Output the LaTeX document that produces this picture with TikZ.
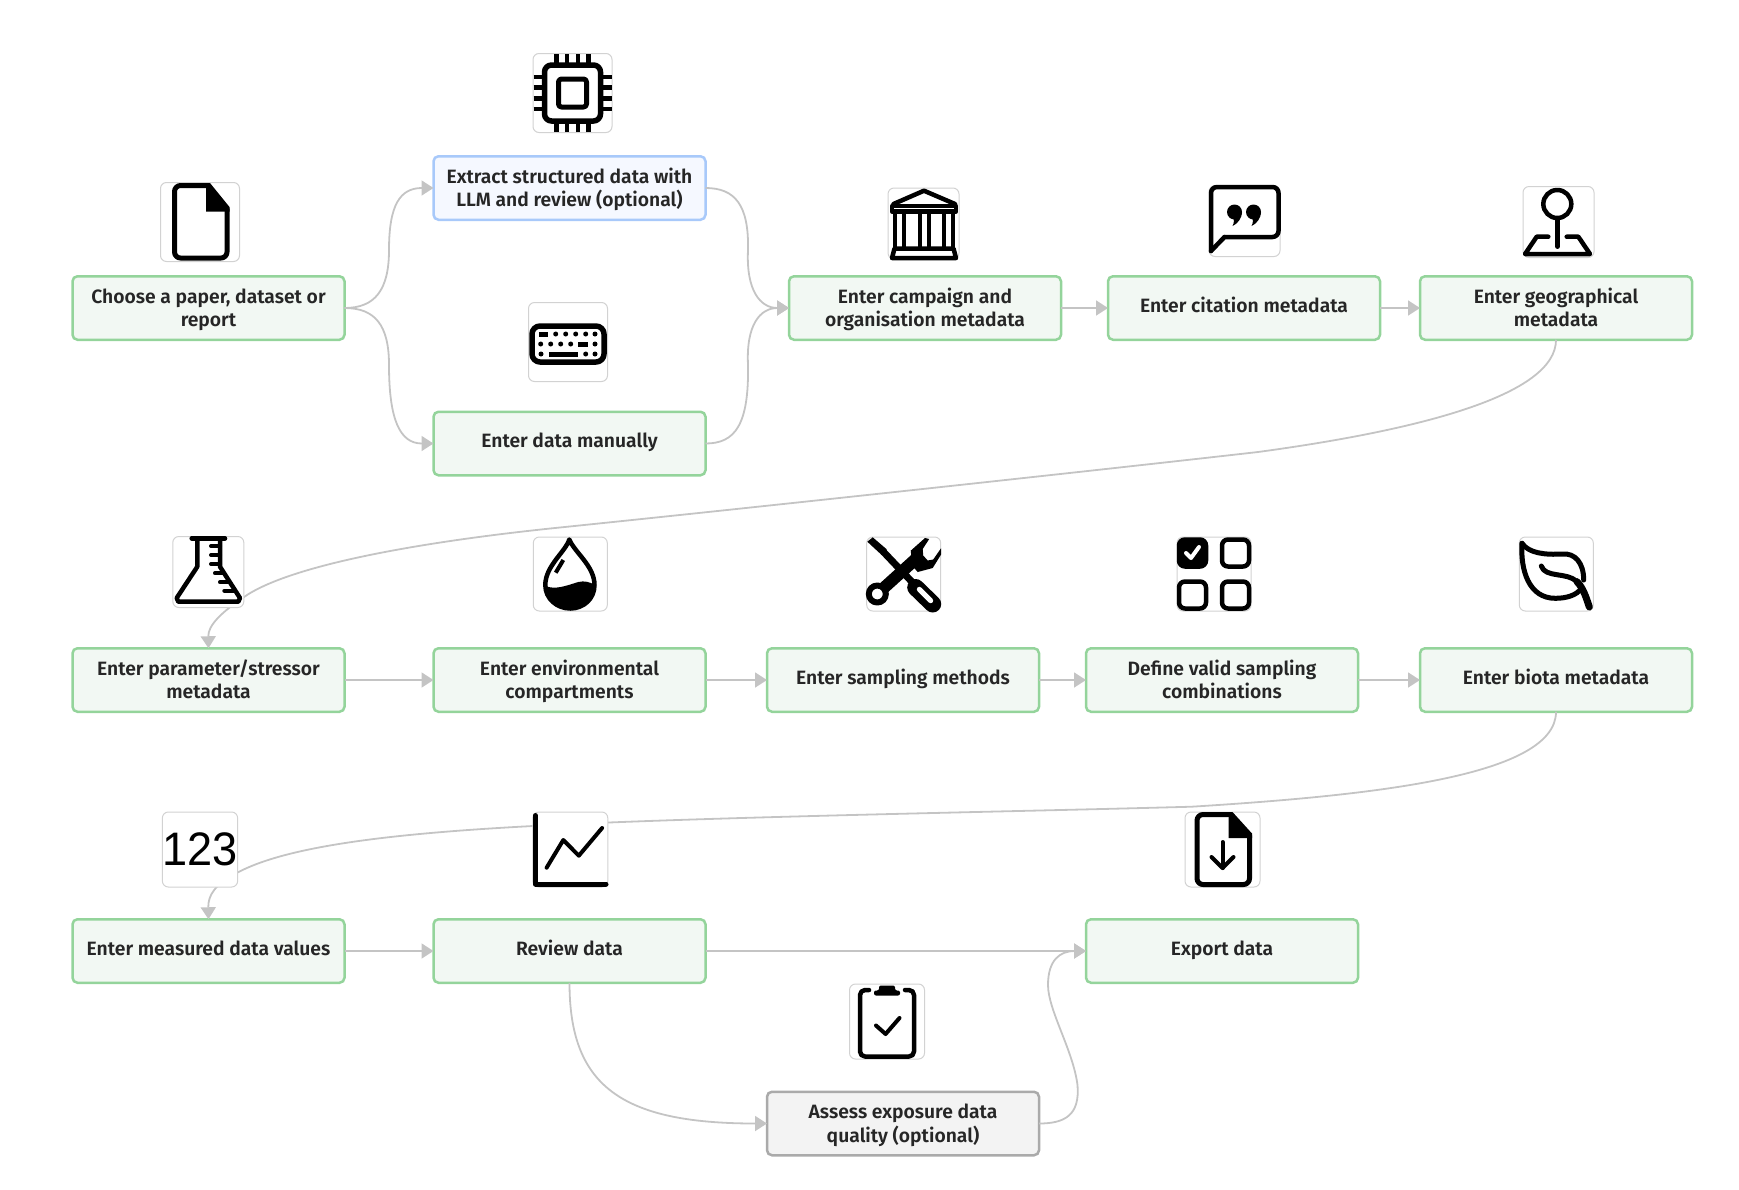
\documentclass[tikz,border=0pt]{standalone}
\usepackage{xcolor}
\usepackage{fontspec}
\setmainfont{Fira Sans SemiBold}
\newfontfamily\numfont[FakeStretch=0.96]{Liberation Sans}
\usetikzlibrary{arrows.meta}
\definecolor{cGreen}{RGB}{148,212,155}
\definecolor{cGreenFill}{RGB}{242,248,243}
\definecolor{cBlue}{RGB}{168,201,250}
\definecolor{cBlueFill}{RGB}{245,248,255}
\definecolor{cGrey}{RGB}{170,170,170}
\definecolor{cGreyFill}{RGB}{243,243,243}
\definecolor{cEdge}{RGB}{196,196,196}
\definecolor{cIcon}{RGB}{210,210,210}
\definecolor{cText}{RGB}{38,38,38}
\tikzset{
    stepbox/.style={draw=cGreen,fill=cGreenFill,line width=2.5pt,rounded corners=5pt,minimum width=272pt,minimum height=63.5pt,inner sep=0pt,outer sep=0pt,align=center,text=cText,text height=42pt,text depth=4.6pt,font=\fontsize{19.3}{23.5}\selectfont},
    llmbox/.style={stepbox,draw=cBlue,fill=cBlueFill},
    optbox/.style={stepbox,draw=cGrey,fill=cGreyFill},
    oneline/.style={text height=14pt,text depth=6pt},
    iconbox/.style={draw=cIcon,fill=white,line width=1pt,rounded corners=6pt,inner sep=0pt,outer sep=0pt},
    flow/.style={draw=cEdge,line width=1.8pt,-{Triangle[length=12pt,width=15pt]}},
    glyph/.style={draw=black,line width=4.5pt,line join=round,line cap=round},
    thinglyph/.style={draw=black,line width=4pt,line join=round,line cap=round}
}
\begin{document}
\begin{tikzpicture}[x=1pt,y=-1pt]
        \useasboundingbox (0,0) rectangle (1739,1189);

        \node[stepbox] (choose) at (208.5,308) {Choose a paper, dataset or\\report};
        \node[llmbox] (extract) at (569.5,188) {Extract structured data with\\LLM and review (optional)};
        \node[stepbox,oneline] (manual) at (569.5,443.5) {Enter data manually};
        \node[stepbox] (campaign) at (925,308) {Enter campaign and\\organisation metadata};
        \node[stepbox,oneline] (citation) at (1244,308) {Enter citation metadata};
        \node[stepbox] (geo) at (1556,308) {Enter geographical\\metadata};

        \node[stepbox] (param) at (208.5,680) {Enter parameter/stressor\\metadata};
        \node[stepbox] (env) at (569.5,680) {Enter environmental\\compartments};
        \node[stepbox,oneline] (sampling) at (903,680) {Enter sampling methods};
        \node[stepbox] (valid) at (1222,680) {Define valid sampling\\combinations};
        \node[stepbox,oneline] (biota) at (1556,680) {Enter biota metadata};

        \node[stepbox,oneline] (measured) at (208.5,951) {Enter measured data values};
        \node[stepbox,oneline] (review) at (569.5,951) {Review data};
        \node[stepbox,oneline] (export) at (1222,951) {Export data};
        \node[optbox] (assess) at (903,1123.5) {Assess exposure data\\quality (optional)};

        \draw[flow] (choose.east) .. controls (375,308) and (389,290) .. (389,250) .. controls (389,205) and (400,188) .. (extract.west);
        \draw[flow] (choose.east) .. controls (375,308) and (389,325) .. (389,365) .. controls (389,420) and (400,443.5) .. (manual.west);
        \draw[flow] (extract.east) .. controls (735,188) and (749,205) .. (748,250) .. controls (746,290) and (760,308) .. (campaign.west);
        \draw[flow] (manual.east) .. controls (735,443.5) and (749,425) .. (748,365) .. controls (746,325) and (760,308) .. (campaign.west);
        \draw[flow] (campaign) -- (citation);
        \draw[flow] (citation) -- (geo);
        \draw[flow] (geo.south) .. controls (1556,395) and (1420,430) .. (1258,452) .. controls (1100,470) and (750,508) .. (555,528) .. controls (420,542) and (290,565) .. (244,597) .. controls (222,612) and (208,625) .. (param.north);
        \draw[flow] (param) -- (env);
        \draw[flow] (env) -- (sampling);
        \draw[flow] (sampling) -- (valid);
        \draw[flow] (valid) -- (biota);
        \draw[flow] (biota.south) .. controls (1556,775) and (1380,795) .. (1191.6,806.7) .. controls (1000,812) and (700,817) .. (533,826) .. controls (400,833) and (290,845) .. (238.6,872) .. controls (215,884) and (208,895) .. (measured.north);
        \draw[flow] (measured) -- (review);
        \draw[flow] (review) -- (export);
        \draw[flow] (review.south) .. controls (569.5,1085) and (620,1123.5) .. (assess.west);
        \draw[flow] (assess.east) .. controls (1065,1123.5) and (1080,1115) .. (1077.5,1085) .. controls (1073,1050) and (1048,1010) .. (1048,985) .. controls (1048,960) and (1060,951) .. (export.west);

        \node[iconbox,minimum width=79pt,minimum height=79pt] (chipIcon) at (572.5,93) {};
        \node[iconbox,minimum width=79pt,minimum height=79pt] (docIcon) at (200,222) {};
        \node[iconbox,minimum width=79pt,minimum height=79pt] (keysIcon) at (568,342) {};
        \node[iconbox,minimum width=71pt,minimum height=71pt] (bankIcon) at (923.5,223.5) {};
        \node[iconbox,minimum width=71pt,minimum height=71pt] (quoteIcon) at (1244.5,221) {};
        \node[iconbox,minimum width=71pt,minimum height=71pt] (pinIcon) at (1558.5,222) {};
        \node[iconbox,minimum width=71pt,minimum height=71pt] (flaskIcon) at (208.3,572) {};
        \node[iconbox,minimum width=74pt,minimum height=74pt] (dropIcon) at (570.3,574) {};
        \node[iconbox,minimum width=74pt,minimum height=74pt] (toolsIcon) at (903.7,574) {};
        \node[iconbox,minimum width=74pt,minimum height=74pt] (checksIcon) at (1214,574) {};
        \node[iconbox,minimum width=74pt,minimum height=74pt] (leafIcon) at (1556.3,574) {};
        \node[iconbox,minimum width=75pt,minimum height=75pt,font=\numfont\fontsize{47}{47}\selectfont] (numIcon) at (200,849.5) {123};
        \node[iconbox,minimum width=75pt,minimum height=75pt] (chartIcon) at (570.3,849.5) {};
        \node[iconbox,minimum width=75pt,minimum height=75pt] (exportIcon) at (1222.5,849.5) {};
        \node[iconbox,minimum width=75pt,minimum height=75pt] (clipIcon) at (887,1021.5) {};

        \begin{scope}[shift={(chipIcon.center)}]
            \draw[glyph,line width=5.5pt,rounded corners=7pt] (-28,-28) rectangle (28,28);
            \draw[glyph,line width=5pt,rounded corners=3pt] (-14,-14) rectangle (14,14);
            \foreach \p in {-16,-5.5,5.5,16} {
                \draw[thinglyph,line width=4.5pt,line cap=butt] (\p,-39) -- (\p,-28);
                \draw[thinglyph,line width=4.5pt,line cap=butt] (\p,39) -- (\p,28);
                \draw[thinglyph,line width=4.5pt,line cap=butt] (-39,\p) -- (-28,\p);
                \draw[thinglyph,line width=4.5pt,line cap=butt] (39,\p) -- (28,\p);
            }
        \end{scope}

        \begin{scope}[shift={(docIcon.center)}]
            \draw[glyph,line width=5pt,rounded corners=6pt] (8,-36.5) -- (-25.5,-36.5) -- (-25.5,36) -- (27,36) -- (27,-13);
            \fill[black] (6,-39) -- (10,-39) -- (29.5,-15) -- (29.5,-10.5) -- (6,-10.5) -- cycle;
        \end{scope}

        \begin{scope}[shift={(keysIcon.center)}]
            \draw[glyph,line width=5.5pt,rounded corners=8pt] (-36,-16) rectangle (36,20);
            \foreach \p in {-12.3,-2.3,7.7,17.7,27} {
                \fill[black] (\p,-8) circle (2.5);
            }
            \fill[black] (-29,-10.5) rectangle (-20,-5.5);
            \foreach \p in {-27.3,-17.3,-7.3,2.7,27} {
                \fill[black] (\p,2) circle (2.5);
            }
            \fill[black] (10,-0.5) rectangle (20,4.5);
            \foreach \p in {-27,17.7,27} {
                \fill[black] (\p,12) circle (2.5);
            }
            \fill[black] (-19,9.5) rectangle (10,14.5);
        \end{scope}

        \begin{scope}[shift={(bankIcon.center)}]
            \draw[glyph] (-30,-19.5) -- (0.5,-32.8) -- (31.5,-19.5);
            \draw[glyph] (-31.5,-17.5) rectangle (32.5,-12);
            \foreach \p in {-28.5,-19.5,-4,5,20,29} {
                \draw[glyph,line cap=butt,line width=4pt] (\p,-11) -- (\p,24);
            }
            \draw[glyph] (-29,25) -- (30,25) -- (32.5,34.5) -- (-31.5,34.5) -- cycle;
        \end{scope}

        \begin{scope}[shift={(quoteIcon.center)}]
            \draw[glyph,rounded corners=6pt] (-33.5,30) -- (-33.5,-34) -- (34,-34) -- (34,16) -- (-20,16);
            \draw[glyph] (-20,16) -- (-33.5,30);
            \foreach \p in {-10,9} {
                \fill[black] (\p,-9) circle (7.5);
                \fill[black] (\p+7.5,-9) .. controls (\p+7.5,-3) and (\p+3,3) .. (\p-2,5) .. controls (\p,1) and (\p,-2) .. (\p-3,-5) -- cycle;
            }
        \end{scope}

        \begin{scope}[shift={(pinIcon.center)}]
            \draw[glyph] (-1.2,-18) circle (14);
            \draw[glyph] (-1,-2) -- (-1,24.7);
            \draw[glyph] (-10.2,14.7) -- (-21.8,14.7) -- (-33.5,32) -- (31.5,32) -- (19.8,14.7) -- (8.2,14.7);
        \end{scope}

        \begin{scope}[shift={(flaskIcon.center)}]
            \draw[glyph] (-16.6,-33.7) -- (16.7,-33.7);
            \draw[glyph] (-11,-33.7) -- (-11,-5.3) -- (-31.6,26) -- (-30,29.7) -- (30,29.7) -- (31.7,26) -- (11.7,-5.3) -- (11.7,-33.7);
            \foreach \a/\b/\c in {2.7/11.7/-26,2.7/11.7/-17,2.7/11.7/-8,6.7/15/1.3,11.7/20/10.3,16/25/18.7} {
                \draw[thinglyph] (\a,\c) -- (\b,\c);
            }
        \end{scope}

        \begin{scope}[shift={(dropIcon.center)}]
            \draw[glyph] (-1,-34.5) .. controls (-5,-22) and (-25,-8) .. (-25,11) .. controls (-25,25) and (-13,34.5) .. (0,34.5) .. controls (13,34.5) and (24.2,25) .. (24.2,11) .. controls (24.2,-8) and (4,-22) .. (-1,-34.5) -- cycle;
            \fill[black] (-25,12) .. controls (-15,16) and (-5,12) .. (8,8) .. controls (14,6.5) and (20,8) .. (24.2,11) .. controls (24.2,25) and (13,34.5) .. (0,34.5) .. controls (-13,34.5) and (-25,25) .. (-25,12) -- cycle;
            \draw[thinglyph,line cap=butt] (-7,-14) -- (-14.6,-1.3);
        \end{scope}

        \begin{scope}[shift={(toolsIcon.center)}]
            \fill[black] (-36.4,-32.3) -- (-31,-36.7) -- (-17,-24.7) -- (-22,-19) -- cycle;
            \draw[glyph,line width=7pt,line cap=butt] (-20.4,-22.3) -- (9.6,9.3);
            \draw[glyph,line width=17pt] (12,13.5) -- (29,30);
            \draw[draw=white,line width=5pt,line cap=round] (15.6,15.3) -- (27,26.7);
            \draw[glyph,line width=12pt,line cap=butt] (-20,14) -- (14.6,-17.3);
            \draw[glyph,line width=6pt] (-26.4,20) circle (8.5);
            \fill[black] (9,-7.7) -- (7,-23.3) -- (21.3,-36) -- (25.5,-35) -- (19,-25) -- (19.5,-18.5) -- (24,-13.5) -- (29.5,-14.5) -- (37.3,-25.7) -- (37.5,-19.7) -- (29,-6) -- (14,-2) -- cycle;
        \end{scope}

        \begin{scope}[shift={(checksIcon.center)}]
            \draw[glyph,fill=black,rounded corners=6pt] (-35,-34.5) rectangle (-8,-7.5);
            \draw[glyph,rounded corners=6pt] (8,-34.5) rectangle (35,-7.5);
            \draw[glyph,rounded corners=6pt] (-35,7.5) rectangle (-8,34.5);
            \draw[glyph,rounded corners=6pt] (8,7.5) rectangle (35,34.5);
            \draw[thinglyph,draw=white] (-28,-21) -- (-23,-16) -- (-15,-27);
        \end{scope}

        \begin{scope}[shift={(leafIcon.center)}]
            \draw[glyph,line width=5pt] (-34.3,-30.7) .. controls (-27.6,-20.7) and (-11,-19) .. (5.7,-20) .. controls (19,-21.3) and (27.4,-10.7) .. (27.4,6);
            \draw[glyph,line width=5pt] (-34.3,-30.7) .. controls (-36,-4) and (-27.6,24.3) .. (-1,24.3) .. controls (10.7,24.3) and (20.7,21) .. (25,14.3);
            \draw[glyph,line width=5pt] (-15,-8) .. controls (-11,4.3) and (10.7,-2.3) .. (20.7,7.7);
            \draw[glyph,line width=7pt] (20.7,7.7) .. controls (27,14) and (30,24) .. (33,33);
        \end{scope}

        \begin{scope}[shift={(chartIcon.center)}]
            \draw[glyph,line width=5pt] (-35,-34) -- (-35,34.5) -- (35.7,34.5);
            \draw[thinglyph] (-23.7,18.2) -- (-7,-9.5) -- (8.5,6.2) -- (31.8,-21.5);
        \end{scope}

        \begin{scope}[shift={(exportIcon.center)}]
            \draw[glyph,line width=5pt,rounded corners=6pt] (6,-35) -- (-25.5,-35) -- (-25.5,35) -- (27,35) -- (27,-14);
            \fill[black] (6,-37.5) -- (10,-37.5) -- (29.5,-16) -- (29.5,-11.5) -- (6,-11.5) -- cycle;
            \draw[thinglyph] (0,-7.5) -- (0,18.5);
            \draw[thinglyph] (-11,7.5) -- (0,18.5) -- (11,7.5);
        \end{scope}

        \begin{scope}[shift={(clipIcon.center)}]
            \draw[glyph,rounded corners=5pt] (-18,-31.5) -- (-27,-31.5) -- (-27,35) -- (27,35) -- (27,-31.5) -- (18,-31.5);
            \fill[black,rounded corners=2pt] (-13,-26) -- (-13,-31) -- (-8,-31) -- (-8,-36) -- (8,-36) -- (8,-31) -- (13,-31) -- (13,-26) -- cycle;
            \draw[thinglyph] (-11,4) -- (-1.4,12.5) -- (12.5,-3.5);
        \end{scope}
    \end{tikzpicture}
\end{document}
